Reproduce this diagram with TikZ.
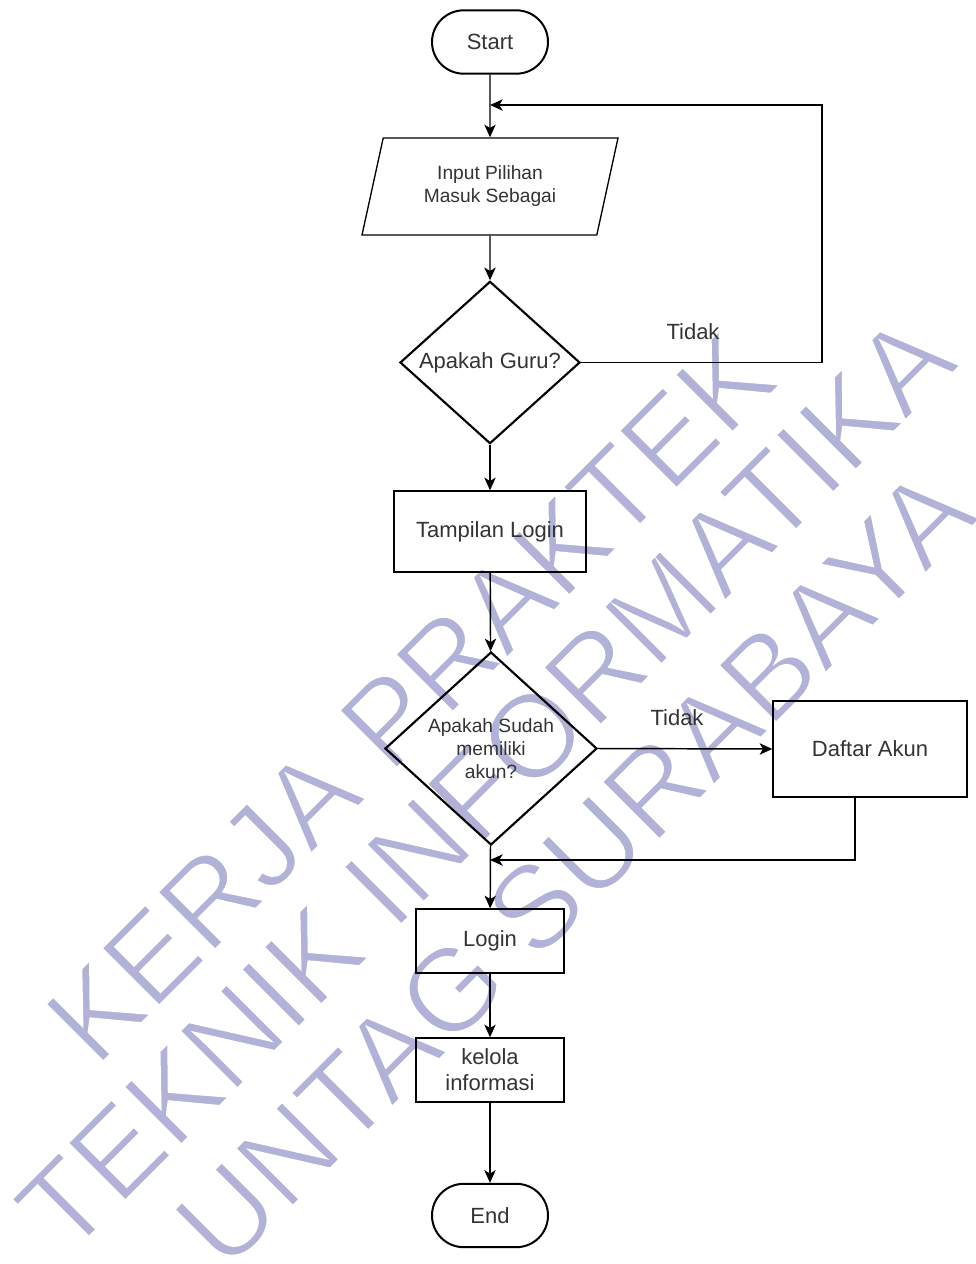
\documentclass[tikz,border=0pt]{standalone}
\usepackage{fontspec}
\setmainfont{Liberation Sans}
\usetikzlibrary{shapes.geometric,arrows.meta}

\definecolor{wmark}{RGB}{178,178,216}
\definecolor{txt}{RGB}{51,51,51}
% thinner watermark letters: fill plus white outline stroke
\newcommand{\thinwm}[1]{\special{pdf:literal direct 2 Tr 1.8 w 1 1 1 RG}#1\special{pdf:literal direct 0 Tr}}

\begin{document}
\begin{tikzpicture}[x=0.75pt,y=0.75pt,yscale=-1,xscale=1,
    lbl/.style={font=\fontsize{16.5}{19.5}\selectfont,text=txt,align=center,inner sep=0.75pt},
    small/.style={font=\fontsize{14.4}{17.25}\selectfont},
    term/.style={lbl,draw,line width=1.5pt,rounded corners=23.75pt,minimum width=87pt,minimum height=47.5pt},
    io/.style={lbl,small,draw,line width=1pt,trapezium,trapezium left angle=63.7,trapezium right angle=116.3,
        trapezium stretches body,minimum width=192pt,minimum height=72.75pt},
    cond/.style={lbl,draw,diamond,line width=1.6pt,inner sep=0pt},
    proc/.style={lbl,draw,line width=1pt,minimum width=111pt,minimum height=48pt},
    flow/.style={line width=1.1pt,-{Stealth[length=9.5pt,width=8.5pt,inset=2.5pt]}},
    wm/.style={font=\fontsize{89}{89}\selectfont,text=wmark,rotate=45,anchor=base,inner sep=0pt}]
        \useasboundingbox (0,0) rectangle (975,1264);

        % watermark
        \node[wm] (wm1) at (439,726) {\thinwm{KERJA PRAKTEK}};
        \node[wm] (wm2) at (514,812) {\thinwm{TEKNIK INFORMATIKA}};
        \node[wm] (wm3) at (603,896) {\thinwm{UNTAG SURABAYA}};

        \node[term] (start) at (490,42) {Start};
        \node[io] (input) at (490,186.5) {Input Pilihan\\Masuk Sebagai};
        \node[cond,minimum width=135pt,minimum height=119.25pt] (guru) at (490,362.5) {Apakah Guru?};
        \node[proc,minimum width=144pt,minimum height=60.75pt] (tampil) at (490,531.5) {Tampilan Login};
        \node[cond,small,minimum width=159pt,minimum height=144.75pt] (akun) at (491,748.5) {Apakah Sudah\\memiliki\\akun?};
        \node[proc,minimum width=145.5pt,minimum height=72pt] (daftar) at (870,749) {Daftar Akun};
        \node[proc] (login) at (490,941) {Login};
        \node[proc] (kelola) at (490,1070) {kelola\\informasi};
        \node[term] (end) at (490,1215.5) {End};

        \node[lbl] (tidak1) at (693,332) {Tidak};
        \node[lbl] (tidak2) at (677,718) {Tidak};

        \coordinate (loopR) at (822,105);
        \coordinate (loopL) at (490,105);
        \coordinate (backR) at (855,860);
        \coordinate (backL) at (490,860);

        \draw[flow] (start) -- (input);
        \draw[flow] (input) -- (guru);
        \draw[flow] (guru) -- (tampil);
        \draw[flow] (tampil) -- (akun);
        \draw[flow] (akun) -- (login);
        \draw[flow] (login) -- (kelola);
        \draw[flow] (kelola) -- (end);
        \draw[flow] (guru.east) -| (loopR) -- (loopL);
        \draw[flow] (akun.east) -- (daftar.west);
        \draw[flow] (backR |- daftar.south) -- (backR) -- (backL);
\end{tikzpicture}
\end{document}
